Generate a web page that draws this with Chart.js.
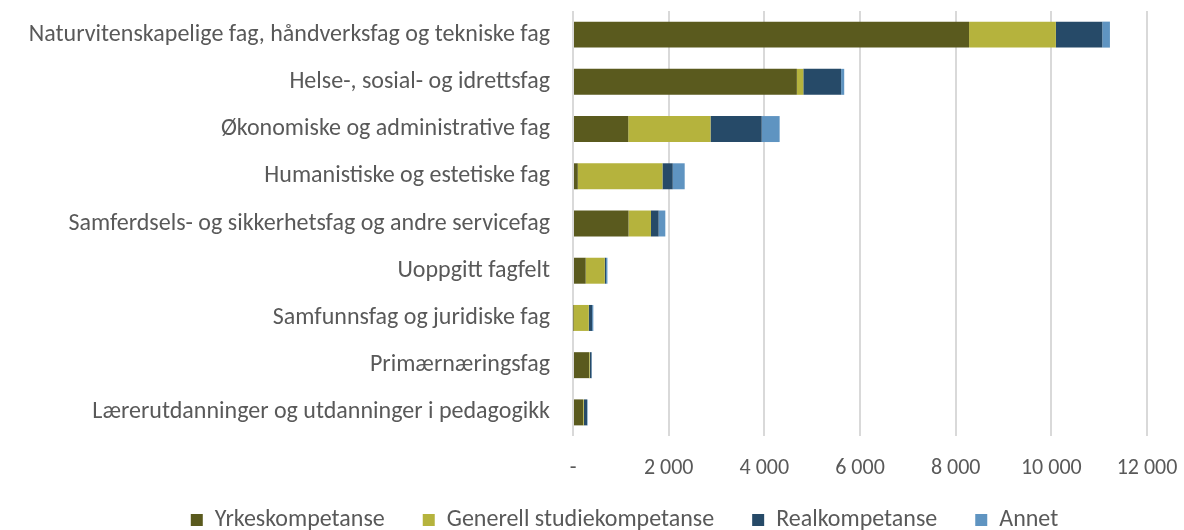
<!DOCTYPE html>
<html>
<head>
<meta charset="utf-8">
<script src="https://cdn.jsdelivr.net/npm/chart.js@4/dist/chart.umd.min.js"></script>
<style>
  html, body { margin: 0; padding: 0; background: #fff; }
  #wrap { width: 1184px; height: 530px; }
</style>
</head>
<body>
<div id="wrap"><canvas id="myChart"></canvas></div>
<script>
// Fagfelt (categories)
const categories = [
    'Naturvitenskapelige fag, håndverksfag og tekniske fag',
    'Helse-, sosial- og idrettsfag',
    'Økonomiske og administrative fag',
    'Humanistiske og estetiske fag',
    'Samferdsels- og sikkerhetsfag og andre servicefag',
    'Uoppgitt fagfelt',
    'Samfunnsfag og juridiske fag',
    'Primærnæringsfag',
    'Lærerutdanninger og utdanninger i pedagogikk'
];

// values
const yrkeskompetanse = [8280, 4680, 1155, 100, 1160, 265, 10, 335, 210];
const generellStudie  = [1815, 135, 1720, 1770, 470, 400, 320, 15, 15];
const realkompetanse  = [970, 790, 1070, 215, 160, 25, 70, 35, 70];
const annet           = [160, 65, 375, 250, 140, 30, 25, 10, 10];

const xTicks = [0, 2000, 4000, 6000, 8000, 10000, 12000];

const fontFamily = 'Carlito, Calibri, Lato, sans-serif';
const textColor = '#595959';

function fmt(v) {
    if (v === 0) return '-';
    return String(v).replace(/\B(?=(\d{3})+(?!\d))/g, ' ');
}

// nudge the legend down/right like the original, and give the x labels room
const legendNudge = {
    id: 'legendNudge',
    afterLayout(chart) {
        const lg = chart.legend;
        lg.left += 51; lg.right += 51;
        lg.top += 12; lg.bottom += 12;
        chart.scales.x.bottom = chart.scales.x.top + 60;
    },
};

const ctx = document.getElementById('myChart').getContext('2d');
const myChart = new Chart(ctx, {
    type: 'bar',
    data: {
        labels: categories,
        datasets: [
            { label: 'Yrkeskompetanse', data: yrkeskompetanse, backgroundColor: '#5A5A1E' },
            { label: 'Generell studiekompetanse', data: generellStudie, backgroundColor: '#B5B33D' },
            { label: 'Realkompetanse', data: realkompetanse, backgroundColor: '#264A68' },
            { label: 'Annet', data: annet, backgroundColor: '#5F94C1' },
        ],
    },
    plugins: [legendNudge],
    options: {
        indexAxis: 'y',
        responsive: true,
        maintainAspectRatio: false,
        animation: false,
        layout: { padding: { top: 11, right: 37, bottom: 0, left: 0 } },
        datasets: { bar: { categoryPercentage: 0.55, barPercentage: 1.0 } },
        plugins: {
            tooltip: { enabled: false },
            legend: {
                position: 'bottom',
                labels: {
                    boxWidth: 12,
                    boxHeight: 12,
                    padding: 38,
                    color: textColor,
                    font: { family: fontFamily, size: 24 },
                },
            },
        },
        scales: {
            x: {
                stacked: true,
                min: 0,
                max: 12000,
                afterBuildTicks: (s) => { s.ticks = xTicks.map(v => ({ value: v })); },
                afterFit: (s) => { s.height = 22; s.paddingLeft = 0; s.paddingRight = 0; },
                grid: { color: '#d9d9d9', lineWidth: 2, drawTicks: false },
                border: { display: false },
                ticks: {
                    padding: 19,
                    color: textColor,
                    font: { family: fontFamily, size: 22 },
                    maxRotation: 0,
                    callback: (v) => fmt(v),
                },
            },
            y: {
                stacked: true,
                afterFit: (s) => { s.width = 573; s.paddingTop = 0; s.paddingBottom = 0; },
                grid: { display: false, drawTicks: false },
                border: { display: false },
                ticks: {
                    padding: 23,
                    color: textColor,
                    font: { family: fontFamily, size: 24 },
                    autoSkip: false,
                },
            },
        },
    },
});
</script>
</body>
</html>
